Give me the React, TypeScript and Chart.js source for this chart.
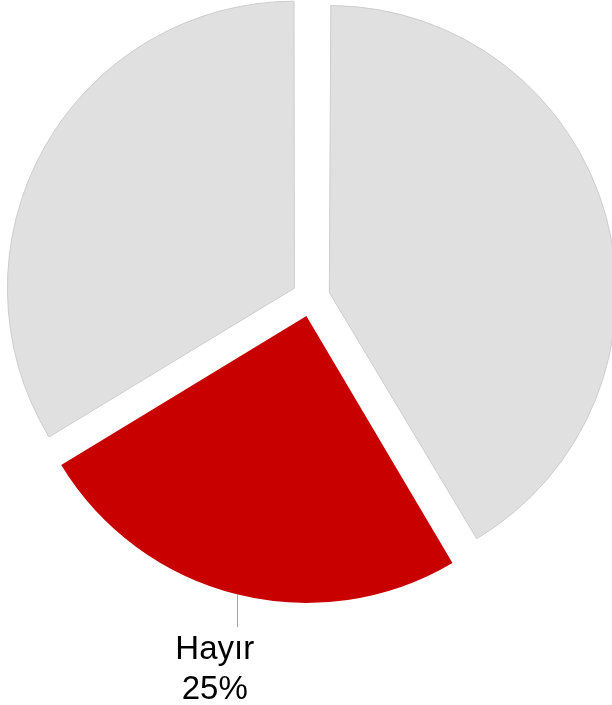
import React, { useEffect, useRef } from "react";
import { Chart, registerables } from "chart.js";

Chart.register(...registerables);

const categories = ["Evet", "Hayır", "Kararsızım"];
const values = [41.5, 24.8, 33.7];
const colors = ["#e0e0e0", "#c80000", "#e0e0e0"];
const borderColors = ["#cdcdcd", "#c80000", "#cdcdcd"];
const borderWidths = [1, 0, 1];
const showLabel = [false, true, false];

const OFFSET = 76; // Chart.js draws offset/4
const RADIUS = 287;

const radiusFixPlugin = {
  id: "radiusFix",
  afterDatasetUpdate(chart: any, args: any) {
    const meta = args.meta;
    meta.data.forEach((arc: any) => {
      const off = OFFSET / 4;
      const circ = arc.circumference;
      const fix = 1 - Math.sin(Math.min(Math.PI, circ || 0));
      arc.$radiusOffset = off * fix;
      arc.outerRadius = RADIUS - off * fix;
    });
  },
};

const labelPlugin = {
  id: "sliceLabels",
  afterDatasetsDraw(chart: any) {
    const ctx = chart.ctx;
    const meta = chart.getDatasetMeta(0);
    const total = values.reduce((a, b) => a + b, 0);
    meta.data.forEach((arc: any, i: number) => {
      if (!showLabel[i]) return;
      const mid = (arc.startAngle + arc.endAngle) / 2;
      const off = OFFSET / 4;
      const r = arc.outerRadius + (arc.$radiusOffset || 0);
      const px = arc.x + Math.cos(mid) * (off + r);
      const py = arc.y + Math.sin(mid) * (off + r);
      ctx.save();
      ctx.strokeStyle = "#a6a6a6";
      ctx.lineWidth = 1;
      ctx.beginPath();
      ctx.moveTo(Math.round(px) + 0.5, py);
      ctx.lineTo(Math.round(px) + 0.5, py + 33);
      ctx.stroke();
      ctx.fillStyle = "#000000";
      ctx.font = "33px 'Liberation Sans', Arial, sans-serif";
      ctx.textAlign = "center";
      ctx.textBaseline = "alphabetic";
      const tx = px - 22;
      ctx.fillText(categories[i], tx, py + 65);
      ctx.fillText(Math.round((values[i] / total) * 100) + "%", tx, py + 105);
      ctx.restore();
    });
  },
};

export default function App() {
  const ref = useRef<HTMLCanvasElement | null>(null);
  useEffect(() => {
    if (!ref.current) return;
    const chart = new Chart(ref.current, {
      type: "pie",
      data: {
        labels: categories,
        datasets: [
          {
            data: values,
            backgroundColor: colors,
            borderColor: borderColors,
            borderWidth: borderWidths,
            offset: OFFSET,
            radius: RADIUS,
            clip: false,
          } as any,
        ],
      },
      options: {
        animation: false,
        responsive: false,
        events: [],
        layout: { padding: { left: 10, right: 0, top: 0, bottom: 110 } },
        plugins: {
          legend: { display: false },
          tooltip: { enabled: false },
        },
      },
      plugins: [radiusFixPlugin, labelPlugin],
    });
    return () => chart.destroy();
  }, []);
  return (
    <div style={{ position: "absolute", left: 0, top: 0, width: 612, height: 705, background: "#fff" }}>
      <canvas ref={ref} width={612} height={705} style={{ display: "block" }} />
    </div>
  );
}
